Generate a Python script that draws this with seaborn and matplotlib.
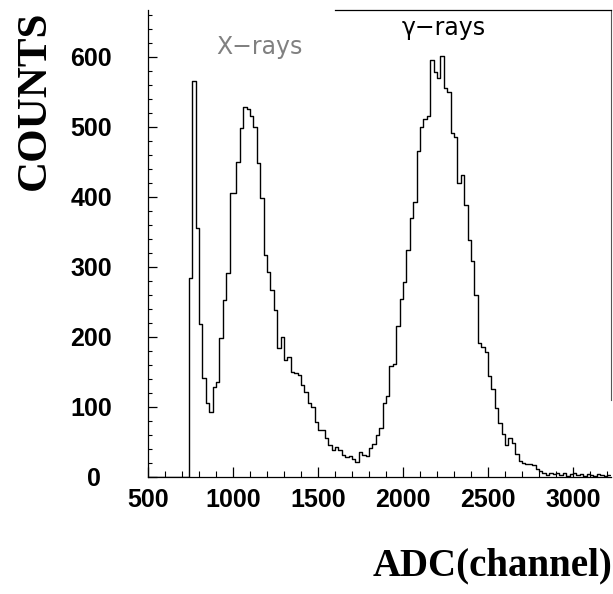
import matplotlib
matplotlib.use("Agg")
import matplotlib.pyplot as plt
import matplotlib.transforms as mtransforms
from matplotlib.ticker import MultipleLocator
import numpy as np
import pandas as pd
import seaborn as sns

# ---- data ----
adc_first_edge = 500
bin_width = 20
counts = [
    0, 0, 0, 0, 0, 0, 0, 0, 0, 0, 0, 0,
    284, 565, 356, 218, 141, 106, 93, 129, 136, 198,
    253, 291, 406, 406, 450, 498, 529, 526, 515, 500,
    448, 398, 317, 293, 267, 239, 184, 200, 167, 172,
    150, 148, 146, 131, 122, 106, 100, 79, 67, 67,
    55, 45, 39, 43, 38, 32, 28, 30, 25, 22,
    36, 31, 30, 41, 47, 60, 70, 105, 115, 158,
    162, 215, 254, 278, 324, 370, 393, 466, 500, 512,
    515, 596, 579, 570, 602, 555, 550, 491, 485, 420,
    432, 389, 339, 308, 260, 191, 186, 179, 144, 125,
    98, 77, 62, 46, 55, 49, 33, 23, 20, 19,
    18, 17, 11, 8, 5,
    3, 5, 4, 6, 3, 5, 2, 4, 5, 3, 4, 2, 4, 3, 2, 4, 3, 2, 3,
]
x_ticks = [500, 1000, 1500, 2000, 2500, 3000]
y_ticks = [0, 100, 200, 300, 400, 500, 600]
x_label = "ADC(channel)"
y_label = "COUNTS"
peak_labels = ["X\u2212rays", "\u03b3\u2212rays"]
peak_label_pos = [(1155, 614), (2242, 641)]

bin_edges = [adc_first_edge + bin_width * i for i in range(len(counts) + 1)]
df = pd.DataFrame({
    "adc": [e + bin_width / 2 for e in bin_edges[:-1]],
    "counts": counts,
})

# ---- figure ----
sns.set_style("white")
plt.rcParams["font.family"] = ["DejaVu Sans"]
plt.rcParams["text.color"] = "black"

W, H = 613, 594
fig = plt.figure(figsize=(W / 100, H / 100), dpi=100)
ax = fig.add_axes([148 / W, 1 - 477 / H, 463 / W, 467 / H])

sns.histplot(data=df, x="adc", weights="counts", bins=bin_edges, element="step",
             fill=False, color="black", linewidth=1.0, ax=ax)

ax.set_xlim(500, 3224)
ax.set_ylim(0, 667)
ax.set_xlabel("")
ax.set_ylabel("")

ax.set_xticks(x_ticks)
ax.set_yticks(y_ticks)
ax.xaxis.set_minor_locator(MultipleLocator(100))
ax.yaxis.set_minor_locator(MultipleLocator(20))

ax.tick_params(axis="both", which="both", direction="in", colors="black",
               bottom=True, left=True, top=False, right=False)
ax.tick_params(axis="y", which="major", length=6.5, width=0.9, pad=26)
ax.tick_params(axis="y", which="minor", length=3, width=0.8)
ax.tick_params(axis="x", which="major", length=7, width=0.9, pad=8)
ax.tick_params(axis="x", which="minor", length=4, width=0.8)

for lab in ax.get_xticklabels() + ax.get_yticklabels():
    lab.set_fontfamily("Liberation Sans")
    lab.set_fontweight("bold")
    lab.set_fontsize(18)
    lab.set_color("black")

for side in ["left", "bottom", "top", "right"]:
    ax.spines[side].set_visible(True)
    ax.spines[side].set_color("black")
    ax.spines[side].set_linewidth(0.9)
ax.spines["top"].set_bounds(1600, 3224)
ax.spines["right"].set_bounds(110, 667)
ax.spines["right"].set_color("#555555")
ax.spines["right"].set_linewidth(0.8)

# peak annotations
ax.text(*peak_label_pos[0], peak_labels[0], fontsize=17, color="#808080",
        ha="center", va="center", family="DejaVu Sans")
ax.text(*peak_label_pos[1], peak_labels[1], fontsize=17, color="black",
        ha="center", va="center", family="DejaVu Sans")

# axis titles
fig.text(35 / W, 1 - 10 / H, y_label, rotation=90, ha="center", va="top",
         fontsize=31, fontweight="bold", family="Liberation Serif", color="black")
fig.text(0.999, 1 - 575 / H, x_label, ha="right", va="baseline",
         fontsize=28, fontweight="bold", family="Liberation Serif", color="black")

# the "0" label sits a bit further left in the reference
zero_lab = ax.get_yticklabels()[0]
zero_lab.set_transform(zero_lab.get_transform() +
                       mtransforms.ScaledTranslation(-11 / 100, 0, fig.dpi_scale_trans))

fig.savefig("out.png", dpi=100)
